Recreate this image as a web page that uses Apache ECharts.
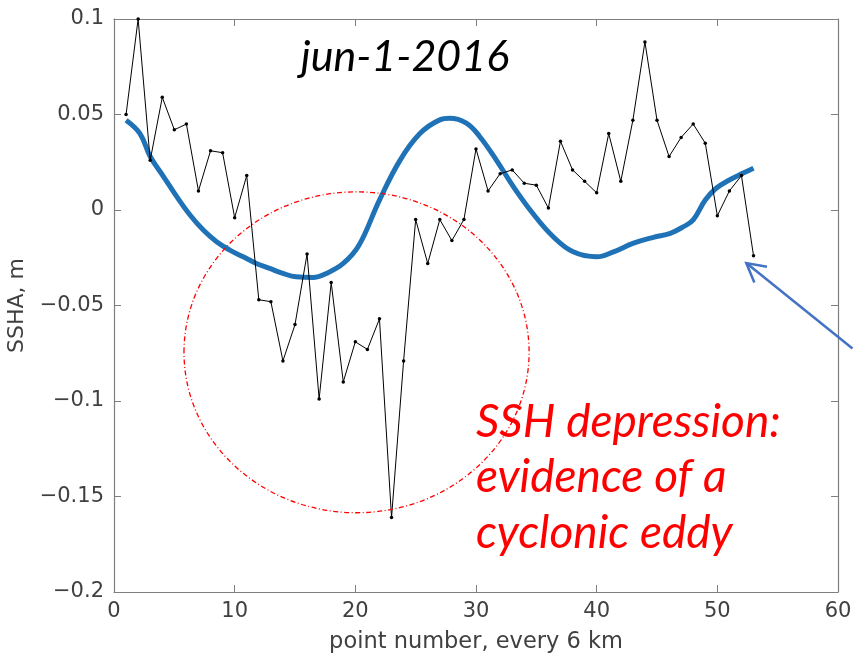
<!DOCTYPE html>
<html>
<head>
<meta charset="utf-8">
<script src="https://cdn.jsdelivr.net/npm/echarts@6/dist/echarts.min.js"></script>
<style>
  html, body { margin: 0; padding: 0; background: #fff; }
  #chart { width: 854px; height: 656px; }
</style>
</head>
<body>
<div id="chart"></div>
<script>
// Along-track sea surface height anomaly, one sample every 6 km
const pointNumbers = [1,2,3,4,5,6,7,8,9,10,11,12,13,14,15,16,17,18,19,20,21,22,23,24,25,26,27,
  28,29,30,31,32,33,34,35,36,37,38,39,40,41,42,43,44,45,46,47,48,49,50,51,52,53];
const sshaValues = [0.050,0.100,0.026,0.059,0.042,0.045,0.010,0.031,0.030,-0.004,0.018,-0.047,-0.048,
  -0.079,-0.060,-0.023,-0.099,-0.038,-0.090,-0.069,-0.073,-0.057,-0.161,-0.079,-0.005,-0.028,-0.005,
  -0.016,-0.005,0.032,0.010,0.019,0.021,0.014,0.013,0.001,0.036,0.021,0.015,0.009,0.040,0.015,0.047,
  0.088,0.047,0.028,0.038,0.045,0.035,-0.003,0.010,0.018,-0.024];

// Smoothed reference profile (thick blue curve)
const smoothX = [1.0,2.15,3.0,4.1,5.2,6.3,7.4,8.5,9.6,10.7,11.8,12.9,14.0,15.1,16.5,17.6,19.0,20.3,
  22.0,23.7,25.35,27.0,27.8,29.2,30.3,31.7,33.1,34.7,36.4,38.05,40.0,41.4,43.0,44.7,46.1,47.2,
  48.0,49.0,49.9,51.0,52.1,53.0];
const smoothY = [0.047,0.040,0.028,0.0175,0.007,-0.0026,-0.0105,-0.0166,-0.021,-0.0245,-0.028,-0.0306,
  -0.0332,-0.035,-0.0353,-0.0332,-0.028,-0.0185,0.0052,0.026,0.040,0.0472,0.048,0.0455,0.0385,
  0.026,0.0122,-0.0017,-0.014,-0.0219,-0.0245,-0.0219,-0.0175,-0.0143,-0.0122,-0.0087,-0.0052,0.0052,
  0.0114,0.0157,0.0192,0.0219];

const xTicks = { min: 0, max: 60, step: 10 };
const yTicks = { min: -0.2, max: 0.1, step: 0.05 };

// Annotation anchors in data units
const eddyCenter = [20.1, -0.0745];
const eddyRadius = [14.3, 0.084];
const arrowTip = [52.4, -0.0278];
const arrowTail = [61.2, -0.0725];

const titleText = 'jun-1-2016';
const noteLines = ['SSH depression:', 'evidence of a', 'cyclonic eddy'];

const axisColor = '#7f7f7f';
const labelColor = '#404040';
const tickFont = 'DejaVu Sans';

function fmtTick(v) {
  const s = String(parseFloat(v.toFixed(3)));
  return s.replace('-', '\u2212');
}

const baseX = {
  type: 'value', min: xTicks.min, max: xTicks.max, interval: xTicks.step,
  axisLine: { show: true, onZero: false, lineStyle: { color: axisColor, width: 1.2 } },
  axisTick: { show: true, inside: true, length: 7, lineStyle: { color: axisColor } },
  splitLine: { show: false }
};
const baseY = {
  type: 'value', min: yTicks.min, max: yTicks.max, interval: yTicks.step,
  axisLine: { show: true, onZero: false, lineStyle: { color: axisColor, width: 1.2 } },
  axisTick: { show: true, inside: true, length: 7, lineStyle: { color: axisColor } },
  splitLine: { show: false }
};

const chart = echarts.init(document.getElementById('chart'), null, { renderer: 'canvas' });

const option = {
  animation: false,
  backgroundColor: '#fff',
  grid: { left: 114, right: 16, top: 19, bottom: 64, containLabel: false, outerBoundsMode: 'none' },
  xAxis: [
    Object.assign({}, baseX, {
      position: 'bottom',
      name: 'point number, every 6 km', nameLocation: 'middle', nameGap: 39,
      nameTextStyle: { fontFamily: tickFont, fontSize: 22.5, color: labelColor },
      axisLabel: { fontFamily: tickFont, fontSize: 21, color: labelColor, margin: 9, formatter: fmtTick }
    }),
    Object.assign({}, baseX, { position: 'top', axisLabel: { show: false } })
  ],
  yAxis: [
    Object.assign({}, baseY, {
      position: 'left',
      name: 'SSHA, m', nameLocation: 'middle', nameGap: 80, nameRotate: 90,
      nameTextStyle: { fontFamily: tickFont, fontSize: 22, color: labelColor },
      axisLabel: { fontFamily: tickFont, fontSize: 21, color: labelColor, margin: 10, formatter: fmtTick }
    }),
    Object.assign({}, baseY, { position: 'right', axisLabel: { show: false } })
  ],
  series: [
    {
      name: 'smoothed', type: 'line', xAxisIndex: 0, yAxisIndex: 0,
      data: smoothX.map((x, i) => [x, smoothY[i]]),
      smooth: 0.4, showSymbol: false, z: 2,
      lineStyle: { color: '#1f72b5', width: 5 }
    },
    {
      name: 'SSHA', type: 'line', xAxisIndex: 0, yAxisIndex: 0,
      data: pointNumbers.map((x, i) => [x, sshaValues[i]]),
      symbol: 'circle', symbolSize: 3.5, z: 3,
      itemStyle: { color: '#000' },
      lineStyle: { color: '#000', width: 1 }
    }
  ]
};
chart.setOption(option);

// Annotations placed through the axes' own coordinate conversion
const toPx = p => chart.convertToPixel({ xAxisIndex: 0, yAxisIndex: 0 }, p);
const c = toPx(eddyCenter);
const edge = toPx([eddyCenter[0] + eddyRadius[0], eddyCenter[1] + eddyRadius[1]]);
const tip = toPx(arrowTip);
const tail = toPx(arrowTail);
const ang = Math.atan2(tail[1] - tip[1], tail[0] - tip[0]);
const headLen = 21, headSpread = 0.5;
const headA = [tip[0] + headLen * Math.cos(ang - headSpread), tip[1] + headLen * Math.sin(ang - headSpread)];
const headB = [tip[0] + headLen * Math.cos(ang + headSpread), tip[1] + headLen * Math.sin(ang + headSpread)];

const textItems = [
  { type: 'text', z: 10, style: { text: titleText, x: 405, y: 57, align: 'center', verticalAlign: 'middle',
      font: 'italic 43px Lato', fill: '#000' } }
];
noteLines.forEach((t, i) => {
  textItems.push({ type: 'text', z: 10, style: { text: t, x: 476, y: 422 + i * 55.5, align: 'left',
    verticalAlign: 'middle', font: 'italic 46px Lato', fill: '#ff0000' } });
});

chart.setOption({
  graphic: [
    { type: 'ellipse', z: 5, silent: true,
      shape: { cx: c[0], cy: c[1], rx: Math.abs(edge[0] - c[0]), ry: Math.abs(edge[1] - c[1]) },
      style: { fill: 'none', stroke: '#ff0000', lineWidth: 1.3, lineDash: [5, 2.5, 1, 2.5] } },
    { type: 'line', z: 6, silent: true,
      shape: { x1: tail[0], y1: tail[1], x2: tip[0], y2: tip[1] },
      style: { stroke: '#4472c4', lineWidth: 2.5 } },
    { type: 'polyline', z: 6, silent: true,
      shape: { points: [headA, tip, headB] },
      style: { stroke: '#4472c4', lineWidth: 2.5, fill: 'none' } }
  ].concat(textItems)
});
</script>
</body>
</html>
